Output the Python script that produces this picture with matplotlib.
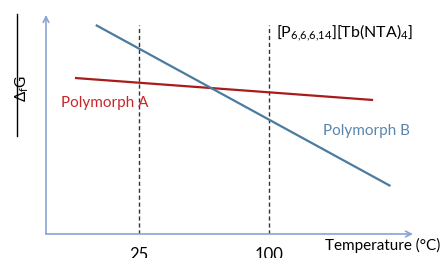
import matplotlib.pyplot as plt

# temperature (deg C) and relative free energy (arbitrary units)
temp_a = [-12, 160]
dG_a = [15.6, 13.4]
temp_b = [0, 170]
dG_b = [20.9, 4.8]
marked_temps = [25, 100]
tick_labels = ['25', '100']

W, H = 443, 258
plt.rcParams['font.family'] = ['Lato', 'DejaVu Sans']
plt.rcParams['mathtext.fontset'] = 'custom'
plt.rcParams['mathtext.rm'] = 'Lato'
plt.rcParams['mathtext.it'] = 'Lato:italic'
fig = plt.figure(figsize=(W / 100, H / 100), dpi=100)

# axes box placed so the axis arrows sit where the original ones are
ax = fig.add_axes([46 / W, 24 / H, (413 - 46) / W, (234 - 15) / H])
ax.set_xlim(-28.7, 183)
ax.set_ylim(0, 21.9)
for s in ax.spines.values():
    s.set_visible(False)
ax.set_yticks([])
ax.set_xticks(marked_temps)
ax.set_xticklabels(tick_labels, fontsize=12)
ax.tick_params(axis='x', length=0, pad=9)

axis_col = '#8aa2d6'
ax.annotate('', xy=(1, 0), xytext=(0, 0), xycoords='axes fraction',
            arrowprops=dict(arrowstyle='->', color=axis_col, lw=1.2,
                            shrinkA=0, shrinkB=0))
ax.annotate('', xy=(0, 1), xytext=(0, 0), xycoords='axes fraction',
            arrowprops=dict(arrowstyle='->', color=axis_col, lw=1.2,
                            shrinkA=0, shrinkB=0))

for t in marked_temps:
    ax.axvline(t, ymin=0, ymax=20.9 / 21.9, color='#333333', lw=1,
               ls=(0, (3, 2)))

ax.plot(temp_a, dG_a, color='#a81c1c', lw=1.6, solid_capstyle='butt')
ax.plot(temp_b, dG_b, color='#4a7ba0', lw=1.6, solid_capstyle='butt')

ax.text(-20, 13.1, 'Polymorph A', color='#c8262b', fontsize=11,
        va='center', ha='left')
ax.text(156, 10.3, 'Polymorph B', color='#5a86ad', fontsize=11,
        va='center', ha='center')
ax.text(104, 20.1, r'[P$_{\mathrm{6{,}6{,}6{,}14}}$][Tb(NTA)$_{\mathrm{4}}$]',
        color='black', fontsize=11.5, va='center', ha='left')

fig.text(440 / W, 1 - 245 / H, 'Temperature (\u00b0C)', fontsize=11,
         ha='right', va='center')
fig.text(22 / W, 1 - 88 / H, r'$\Delta_{\mathrm{f}}$G', fontsize=11,
         rotation=90, ha='center', va='center')
fig.add_artist(plt.Line2D([17 / W, 17 / W], [1 - 14 / H, 1 - 136 / H],
                          transform=fig.transFigure, color='black', lw=1))

fig.savefig('out.png', dpi=100)
